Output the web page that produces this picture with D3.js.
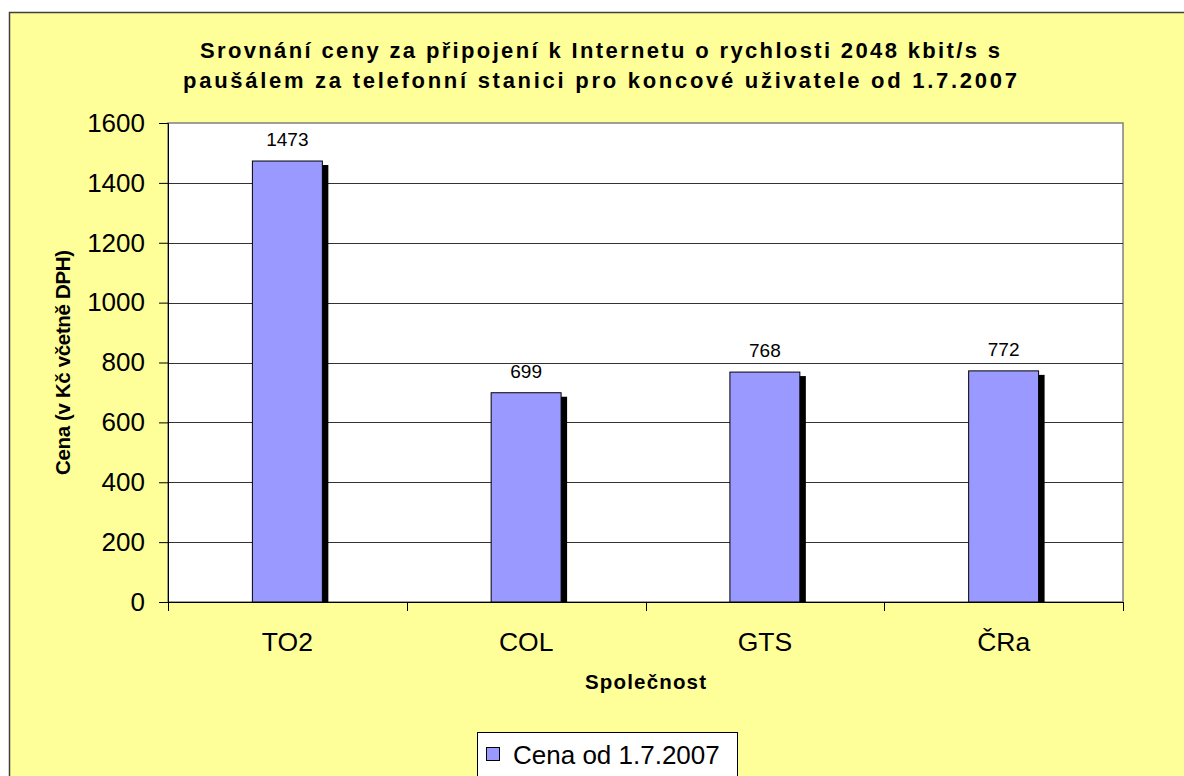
<!DOCTYPE html>
<html>
<head>
<meta charset="utf-8">
<script src="https://cdn.jsdelivr.net/npm/d3@7"></script>
<style>
  body { margin: 0; background: #fff; }
  svg { display: block; font-family: "Liberation Sans", Arial, sans-serif; }
</style>
</head>
<body>
<svg id="chart" width="1184" height="776"></svg>
<script>
// data
var companies = ['TO2', 'COL', 'GTS', 'ČRa'];
var prices = [1473, 699, 768, 772];
var yTicks = [0, 200, 400, 600, 800, 1000, 1200, 1400, 1600];
var titleLines = ['Srovnání ceny za připojení k Internetu o rychlosti 2048 kbit/s s',
                  'paušálem za telefonní stanici pro koncové uživatele od 1.7.2007'];
var seriesName = 'Cena od 1.7.2007';

var data = companies.map((c, i) => ({ name: c, value: prices[i] }));
var fontFam = 'Liberation Sans, Arial, sans-serif';

var svg = d3.select('#chart');

// chart area (yellow), border runs off the right / bottom edges
svg.append('rect')
    .attr('x', 9.5).attr('y', 12.5)
    .attr('width', 1200).attr('height', 800)
    .attr('fill', '#FFFF99')
    .attr('stroke', '#404040')
    .attr('stroke-width', 1.5);

var plotL = 168, plotR = 1123, plotT = 123, plotB = 602;

var x = d3.scaleBand().domain(companies).range([plotL, plotR]).paddingInner(0).paddingOuter(0);
var y = d3.scaleLinear().domain([0, 1600]).range([plotB, plotT]);

var barW = x.bandwidth() * 0.293;

// plot background
svg.append('rect')
    .attr('x', plotL).attr('y', plotT)
    .attr('width', plotR - plotL).attr('height', plotB - plotT)
    .attr('fill', '#fff')
    .attr('stroke', '#808080')
    .attr('stroke-width', 1.5);

// gridlines
svg.append('g')
    .selectAll('line')
    .data(yTicks.filter(t => t > 0 && t < 1600))
    .enter().append('line')
    .attr('x1', plotL).attr('x2', plotR)
    .attr('y1', d => Math.round(y(d)) + 0.5).attr('y2', d => Math.round(y(d)) + 0.5)
    .attr('stroke', '#333')
    .attr('stroke-width', 1);

// shadows
svg.append('g')
    .selectAll('rect')
    .data(data)
    .enter().append('rect')
    .attr('x', d => x(d.name) + (x.bandwidth() - barW) / 2 + 6)
    .attr('y', d => y(d.value) + 4)
    .attr('width', barW)
    .attr('height', d => y(0) - y(d.value) - 4)
    .attr('fill', '#000');

// bars
svg.append('g')
    .selectAll('rect')
    .data(data)
    .enter().append('rect')
    .attr('x', d => x(d.name) + (x.bandwidth() - barW) / 2)
    .attr('y', d => y(d.value))
    .attr('width', barW)
    .attr('height', d => y(0) - y(d.value))
    .attr('fill', '#9999FF')
    .attr('stroke', '#000')
    .attr('stroke-width', 1);

// value labels
svg.append('g')
    .selectAll('text')
    .data(data)
    .enter().append('text')
    .attr('x', d => x(d.name) + x.bandwidth() / 2)
    .attr('y', d => y(d.value) - 15)
    .attr('text-anchor', 'middle')
    .attr('font-size', 19)
    .attr('fill', '#000')
    .text(d => d.value);

// y axis
var yAxis = svg.append('g')
    .attr('transform', 'translate(' + plotL + ',0)')
    .call(d3.axisLeft(y).tickValues(yTicks).tickSize(9).tickPadding(14).tickFormat(d3.format('d')));
yAxis.selectAll('text').attr('font-size', 26).attr('fill', '#000').attr('font-family', fontFam);
yAxis.selectAll('line, path').attr('stroke', '#000');

// x axis, ticks at category boundaries
var xAxis = svg.append('g')
    .attr('transform', 'translate(0,' + plotB + ')')
    .call(d3.axisBottom(x).tickSize(0).tickPadding(30));
xAxis.selectAll('text').attr('font-size', 26.5).attr('fill', '#000').attr('font-family', fontFam);
xAxis.select('path').attr('stroke', '#000');
xAxis.selectAll('.boundary')
    .data(d3.range(companies.length + 1))
    .enter().append('line')
    .attr('class', 'boundary')
    .attr('x1', i => left(i))
    .attr('x2', i => left(i))
    .attr('y1', 0).attr('y2', 9)
    .attr('stroke', '#000');

function left(i) { return Math.round(plotL + i * x.step()) + 0.5; }

// title
svg.append('g')
    .selectAll('text')
    .data(titleLines)
    .enter().append('text')
    .attr('x', 600)
    .attr('y', (d, i) => 58 + i * 30)
    .attr('text-anchor', 'middle')
    .attr('font-size', 22)
    .attr('font-weight', 'bold')
    .attr('textLength', (d, i) => i === 0 ? 800 : 834)
    .attr('lengthAdjust', 'spacing')
    .text(d => d);

// axis titles
svg.append('text')
    .attr('transform', 'translate(70,' + ((plotT + plotB) / 2) + ') rotate(-90)')
    .attr('text-anchor', 'middle')
    .attr('font-size', 20.5)
    .attr('font-weight', 'bold')
    .attr('textLength', 225)
    .attr('lengthAdjust', 'spacing')
    .text('Cena (v Kč včetně DPH)');

svg.append('text')
    .attr('x', (plotL + plotR) / 2)
    .attr('y', 689)
    .attr('text-anchor', 'middle')
    .attr('font-size', 20.5)
    .attr('font-weight', 'bold')
    .attr('textLength', 121)
    .attr('lengthAdjust', 'spacing')
    .text('Společnost');

// legend
var legend = svg.append('g').attr('transform', 'translate(477.5,732.5)');
legend.append('rect')
    .attr('width', 260).attr('height', 60)
    .attr('fill', '#fff')
    .attr('stroke', '#000')
    .attr('stroke-width', 1);
legend.append('rect')
    .attr('x', 9).attr('y', 15)
    .attr('width', 13).attr('height', 13)
    .attr('fill', '#9999FF')
    .attr('stroke', '#000');
legend.append('text')
    .attr('x', 35.5).attr('y', 31)
    .attr('font-size', 26)
    .text(seriesName);
</script>
</body>
</html>
